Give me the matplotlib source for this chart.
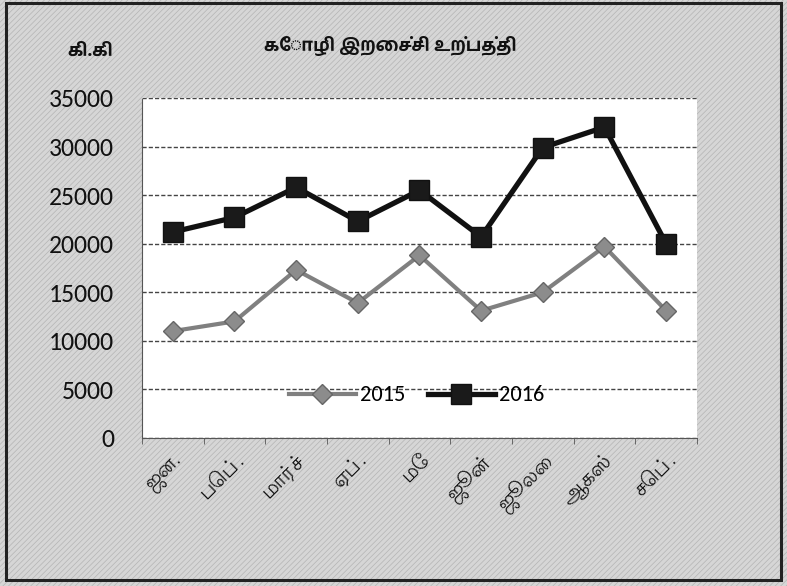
import matplotlib
matplotlib.use("Agg")
import matplotlib.pyplot as plt
from matplotlib.patches import Rectangle

# data
months = ["ஜன.", "பெப்.", "மார்ச்", "ஏப்.", "மே", "ஜூன்", "ஜூலை", "ஆகஸ்", "செப்."]
prod_2015 = [11000, 12000, 17300, 13900, 18800, 13100, 15000, 19700, 13100]
prod_2016 = [21200, 22700, 25800, 22300, 25500, 20700, 29900, 32000, 20000]
yticks = [0, 5000, 10000, 15000, 20000, 25000, 30000, 35000]

tamil = ["Lohit Tamil", "Noto Sans Tamil", "FreeSans", "DejaVu Sans"]
tamil_bold = ["Hind Madurai", "Mukta Malar", "Lohit Tamil", "DejaVu Sans"]
nums = ["Carlito", "Lato", "DejaVu Sans"]

plt.rcParams["hatch.linewidth"] = 0.5

fig = plt.figure(figsize=(7.87, 5.86), dpi=100)
fig.patch.set_facecolor("#d6d6d6")

# scanned, hatched background + outer frame
bg = Rectangle((0, 0), 1, 1, transform=fig.transFigure, facecolor="#d6d6d6",
               edgecolor="#b4b4b4", hatch="//////", linewidth=0, zorder=-10)
fig.patches.append(bg)
frame = Rectangle((0.007, 0.01), 0.985, 0.985, transform=fig.transFigure,
                  fill=False, edgecolor="#222222", linewidth=2.2, zorder=5)
fig.patches.append(frame)

ax = fig.add_axes([0.1804, 0.2526, 0.7052, 0.5802])
ax.set_facecolor("white")

x = range(len(months))
ax.plot(x, prod_2015, color="#808080", linewidth=3, marker="D", markersize=10,
        markerfacecolor="#8c8c8c", markeredgecolor="#666666", label="2015")
ax.plot(x, prod_2016, color="#111111", linewidth=3.8, marker="s", markersize=15,
        markerfacecolor="#1a1a1a", markeredgecolor="#111111", label="2016")

ax.set_xlim(-0.5, len(months) - 0.5)
ax.set_ylim(0, 35000)
ax.set_yticks(yticks)
ax.set_yticklabels([str(v) for v in yticks], family=nums, fontsize=18.5, color="#111111")
ax.grid(axis="y", color="#444444", linestyle=(0, (3, 1.5)), linewidth=1)
ax.set_axisbelow(True)

ax.set_xticks(list(x))
ax.set_xticklabels(months, family=tamil, fontsize=15, rotation=45,
                   ha="right", rotation_mode="anchor", color="#111111")
ax.tick_params(axis="x", length=0, pad=8)
ax.tick_params(axis="y", length=0, pad=20)
ax.set_xticks([i + 0.5 for i in range(-1, len(months))], minor=True)
ax.tick_params(axis="x", which="minor", length=4, color="#555555", direction="out")

for s in ["top", "right"]:
    ax.spines[s].set_visible(False)
ax.spines["left"].set_color("#555555")
ax.spines["left"].set_linestyle((0, (2, 1)))
ax.spines["bottom"].set_color("#555555")

leg = ax.legend(loc="center", bbox_to_anchor=(0.495, 0.125), ncol=2, frameon=False,
                prop={"family": nums, "size": 16}, handlelength=3, columnspacing=1.0,
                handletextpad=0.2)

fig.text(0.496, 0.922, "கோழி இறைச்சி உற்பத்தி", family=tamil_bold, fontsize=13,
         fontweight="bold", ha="center", va="center", color="#111111")
fig.text(0.115, 0.912, "கி.கி", family=tamil_bold, fontsize=13, fontweight="bold",
         ha="center", va="center", color="#111111")

fig.savefig("out.png", dpi=100, facecolor=fig.get_facecolor())
